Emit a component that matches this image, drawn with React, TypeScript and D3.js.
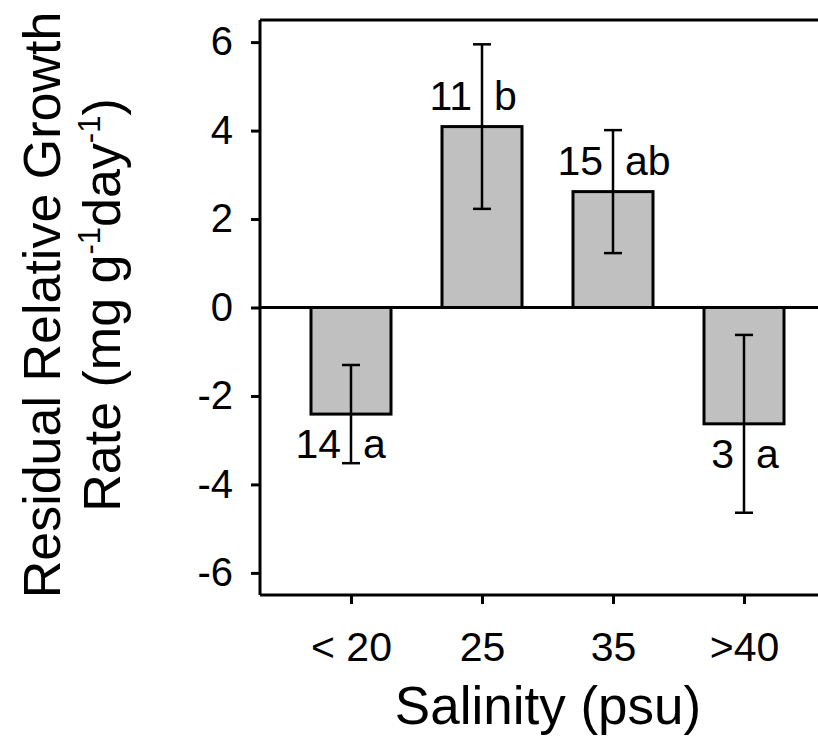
import * as d3 from "d3";
import { useEffect, useRef } from "react";

const categories = ["< 20", "25", "35", ">40"];
const means = [-2.41, 4.09, 2.62, -2.63];
const errors = [1.11, 1.86, 1.39, 2.01];
const counts = ["14", "11", "15", "3"];
const letters = ["a", "b", "ab", "a"];
const yTicks = [-6, -4, -2, 0, 2, 4, 6];

export default function App() {
  const ref = useRef<SVGSVGElement>(null);

  useEffect(() => {
    const width = 818;
    const height = 754;
    const left = 260;
    const top = 20;
    const bottom = 595;
    const font = "'Liberation Sans', Arial, Helvetica, sans-serif";

    const svg = d3.select(ref.current);
    svg.selectAll("*").remove();

    const y = d3.scaleLinear().domain([-6.5, 6.5]).range([bottom, top]);
    const x = d3.scalePoint<string>().domain(categories).range([351, 744]);
    const barW = 80;

    // bars
    svg.append("g")
      .selectAll("rect")
      .data(means)
      .join("rect")
      .attr("x", (_, i) => x(categories[i])! - barW / 2)
      .attr("y", (d) => y(Math.max(0, d)))
      .attr("width", barW)
      .attr("height", (d) => Math.abs(y(d) - y(0)))
      .attr("fill", "#c0c0c0")
      .attr("stroke", "#000")
      .attr("stroke-width", 3);

    // zero line and top frame
    svg.append("line")
      .attr("x1", left).attr("x2", width)
      .attr("y1", y(0)).attr("y2", y(0))
      .attr("stroke", "#000").attr("stroke-width", 3);
    svg.append("line")
      .attr("x1", left).attr("x2", width)
      .attr("y1", top).attr("y2", top)
      .attr("stroke", "#000").attr("stroke-width", 3);

    // error bars
    const eb = svg.append("g").attr("stroke", "#000").attr("stroke-width", 2.5);
    means.forEach((m, i) => {
      const cx = x(categories[i])!;
      const hi = y(m + errors[i]);
      const lo = y(m - errors[i]);
      eb.append("line").attr("x1", cx).attr("x2", cx).attr("y1", hi).attr("y2", lo);
      eb.append("line").attr("x1", cx - 9).attr("x2", cx + 9).attr("y1", hi).attr("y2", hi);
      eb.append("line").attr("x1", cx - 9).attr("x2", cx + 9).attr("y1", lo).attr("y2", lo);
    });

    // sample sizes and significance letters
    const ann = svg.append("g").attr("font-family", font).attr("font-size", 41).attr("fill", "#000");
    means.forEach((m, i) => {
      const cx = x(categories[i])!;
      const base = m >= 0 ? y(m) - 17 : y(m) + 44;
      ann.append("text").attr("x", cx - 10).attr("y", base).attr("text-anchor", "end").text(counts[i]);
      ann.append("text").attr("x", cx + 12).attr("y", base).attr("text-anchor", "start").text(letters[i]);
    });

    // y axis
    const yAxis = svg.append("g")
      .attr("transform", `translate(${left},0)`)
      .call(d3.axisLeft(y).tickValues(yTicks).tickSize(9).tickPadding(18).tickFormat((d) => String(d)));
    yAxis.select(".domain").attr("d", `M0,${top}V${bottom}`).attr("stroke-width", 3);
    yAxis.selectAll(".tick line").attr("stroke-width", 3);
    yAxis.selectAll("text").attr("font-family", font).attr("font-size", 40).attr("fill", "#000");

    // x axis
    const xAxis = svg.append("g")
      .attr("transform", `translate(0,${bottom})`)
      .call(d3.axisBottom(x).tickSize(9).tickPadding(28));
    xAxis.select(".domain").attr("d", `M${left},0H${width}`).attr("stroke-width", 3);
    xAxis.selectAll(".tick line").attr("stroke-width", 3);
    xAxis.selectAll("text").attr("font-family", font).attr("font-size", 41).attr("fill", "#000");

    // axis titles
    svg.append("text")
      .attr("x", 548).attr("y", 724)
      .attr("text-anchor", "middle")
      .attr("font-family", font).attr("font-size", 53)
      .text("Salinity (psu)");

    svg.append("text")
      .attr("transform", "translate(60,305) rotate(-90)")
      .attr("text-anchor", "middle")
      .attr("font-family", font).attr("font-size", 52)
      .text("Residual Relative Growth");

    const t2 = svg.append("text")
      .attr("transform", "translate(120,305) rotate(-90)")
      .attr("text-anchor", "middle")
      .attr("font-family", font).attr("font-size", 52);
    t2.append("tspan").text("Rate (mg g");
    t2.append("tspan").attr("font-size", 31).attr("dy", -20).text("-1");
    t2.append("tspan").attr("dy", 20).text("day");
    t2.append("tspan").attr("font-size", 31).attr("dy", -20).text("-1");
    t2.append("tspan").attr("dy", 20).text(")");

    svg.attr("width", width).attr("height", height);
  }, []);

  return (
    <svg
      ref={ref}
      width={818}
      height={754}
      style={{ position: "absolute", left: 0, top: 0, background: "#fff" }}
    />
  );
}
